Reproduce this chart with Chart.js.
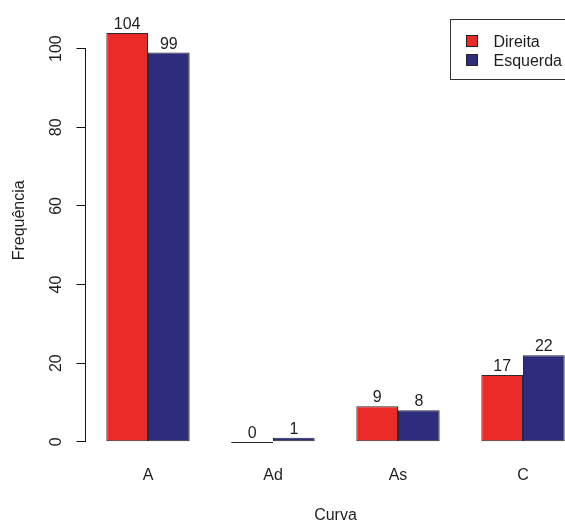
<!DOCTYPE html>
<html>
<head>
<meta charset="utf-8">
<script src="https://cdn.jsdelivr.net/npm/chart.js@4/dist/chart.umd.min.js"></script>
<style>
  html, body { margin: 0; padding: 0; background: #fff; overflow: hidden; }
  #wrap { width: 565px; height: 525px; overflow: hidden; }
</style>
</head>
<body>
<div id="wrap"><canvas id="grafico" width="592" height="525"></canvas></div>
<script>
// dados
const curvas = ["A", "Ad", "As", "C"];
const direita = [104, 0, 9, 17];
const esquerda = [99, 1, 8, 22];
const ticksY = [0, 20, 40, 60, 80, 100];
const tituloY = "Frequência";

const corTexto = "#1e1e1e";
const fonte = "'Liberation Sans', Arial, sans-serif";

Chart.defaults.font.family = fonte;
Chart.defaults.font.size = 16;
Chart.defaults.color = corTexto;

// linha do eixo y so entre 0 e 100, como no R, e titulo do eixo
const eixoY = {
  id: "eixoY",
  afterDraw(chart) {
    const { ctx, chartArea, scales } = chart;
    const y = scales.y;
    const x = Math.round(chartArea.left) - 0.5;
    ctx.save();
    ctx.strokeStyle = "#111";
    ctx.lineWidth = 1;
    ctx.beginPath();
    ctx.moveTo(x, Math.round(y.getPixelForValue(ticksY[0])));
    ctx.lineTo(x, Math.round(y.getPixelForValue(ticksY[ticksY.length - 1])));
    ctx.stroke();

    ctx.translate(20, (chartArea.top + chartArea.bottom) / 2 - 17);
    ctx.rotate(-Math.PI / 2);
    ctx.font = "16px " + fonte;
    ctx.fillStyle = corTexto;
    ctx.textAlign = "center";
    ctx.textBaseline = "middle";
    ctx.fillText(tituloY, 0, 0);
    ctx.restore();
  }
};

// valores em cima das barras + barra de altura zero
const rotulos = {
  id: "rotulos",
  afterDatasetsDraw(chart) {
    const { ctx } = chart;
    ctx.save();
    ctx.font = "16px " + fonte;
    ctx.fillStyle = corTexto;
    ctx.textAlign = "center";
    ctx.textBaseline = "alphabetic";
    chart.data.datasets.forEach((ds, i) => {
      const meta = chart.getDatasetMeta(i);
      meta.data.forEach((bar, j) => {
        const v = ds.data[j];
        if (v === 0) {
          ctx.strokeStyle = "#222";
          ctx.lineWidth = 1;
          ctx.beginPath();
          ctx.moveTo(bar.x - bar.width / 2, Math.round(bar.y) + 0.5);
          ctx.lineTo(bar.x + bar.width / 2, Math.round(bar.y) + 0.5);
          ctx.stroke();
        }
        ctx.fillText(String(v), bar.x, bar.y - 4);
      });
    });
    ctx.restore();
  }
};

// legenda com caixa, estilo R
const legenda = {
  id: "legendaR",
  afterDraw(chart) {
    const { ctx, chartArea } = chart;
    const x0 = Math.round(chartArea.right - 136) + 0.5;
    const y0 = Math.round(chartArea.top + 2) + 0.5;
    ctx.save();
    ctx.fillStyle = "#fff";
    ctx.fillRect(x0, y0, 140, 60);
    ctx.strokeStyle = "#333";
    ctx.lineWidth = 1;
    ctx.strokeRect(x0, y0, 140, 60);
    ctx.font = "16px " + fonte;
    ctx.textAlign = "left";
    ctx.textBaseline = "alphabetic";
    chart.data.datasets.forEach((ds, i) => {
      const top = y0 + 16 + i * 19;
      ctx.fillStyle = ds.backgroundColor;
      ctx.fillRect(x0 + 16, top, 11, 11);
      ctx.strokeStyle = "#222";
      ctx.strokeRect(x0 + 16, top, 11, 11);
      ctx.fillStyle = corTexto;
      ctx.fillText(ds.label, x0 + 43, top + 11.5);
    });
    ctx.restore();
  }
};

new Chart(document.getElementById("grafico"), {
  type: "bar",
  data: {
    labels: curvas,
    datasets: [
      {
        label: "Direita",
        data: direita,
        backgroundColor: "#ec2a28",
        borderColor: "#2a2a2a",
        borderWidth: 1,
        borderSkipped: false
      },
      {
        label: "Esquerda",
        data: esquerda,
        backgroundColor: "#2e2c7d",
        borderColor: "#2a2a2a",
        borderWidth: 1,
        borderSkipped: false
      }
    ]
  },
  options: {
    responsive: false,
    animation: false,
    devicePixelRatio: 1,
    layout: { padding: { top: 14.5, right: 6.5, bottom: 0, left: 0 } },
    datasets: { bar: { barPercentage: 1, categoryPercentage: 2 / 3 } },
    plugins: {
      legend: { display: false },
      tooltip: { enabled: false }
    },
    scales: {
      x: {
        grid: { display: false, drawTicks: false },
        border: { display: false },
        ticks: { padding: 8, color: corTexto },
        title: { display: true, text: "Curva", padding: { top: 0, bottom: 0 }, color: corTexto },
        afterFit(scale) { scale.height = 66.9; }
      },
      y: {
        min: -4.16,
        max: 108.16,
        grid: { drawOnChartArea: false, drawTicks: true, tickLength: 9, color: "#111" },
        border: { display: false },
        ticks: { minRotation: 90, maxRotation: 90, crossAlign: "center", padding: 7, color: corTexto },
        afterBuildTicks(scale) { scale.ticks = ticksY.map(v => ({ value: v })); },
        afterFit(scale) { scale.width = 85.5; }
      }
    }
  },
  plugins: [eixoY, rotulos, legenda]
});
</script>
</body>
</html>
